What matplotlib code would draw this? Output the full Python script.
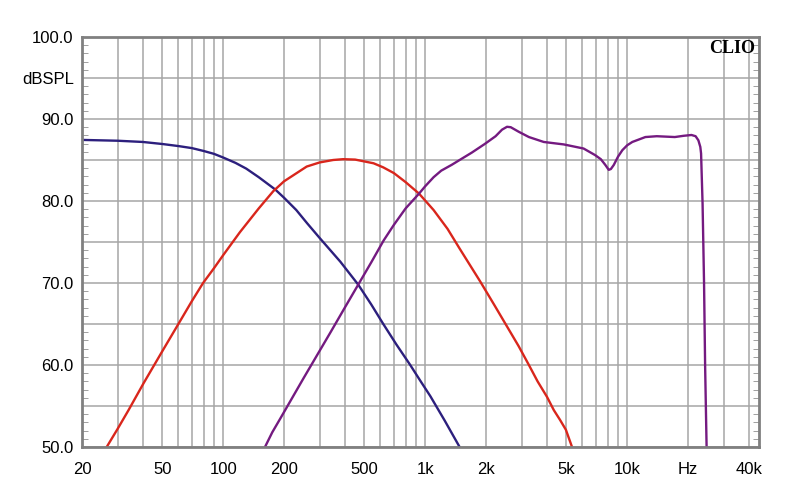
import numpy as np
import matplotlib.pyplot as plt
from matplotlib.ticker import FixedLocator, NullFormatter

plt.rcParams['font.family'] = ['Liberation Sans', 'DejaVu Sans']

# Tieftöner (blau)
blue_f = [20, 30, 40, 50, 60, 70, 80, 90, 100, 115, 130, 150, 181, 200, 230, 260, 300, 380, 466,
          540, 620, 720, 843, 950, 1060, 1250, 1480, 1550]
blue_db = [87.45, 87.35, 87.2, 86.95, 86.7, 86.45, 86.1, 85.75, 85.3, 84.65, 83.95, 82.9, 81.4, 80.4, 78.9, 77.3, 75.5, 72.6, 69.8,
           67.4, 65.0, 62.5, 60.0, 58.0, 56.2, 53.2, 50.0, 49.0]

# Mitteltöner (rot)
red_f = [25.5, 26.5, 30, 34, 40.4, 50, 60, 70, 79.5, 90, 100, 121, 150, 177, 200, 259, 300, 350, 392, 450,
         555, 620, 700, 800, 932, 1100, 1290, 1480, 1870, 2200, 2540, 2900, 3260, 3600, 4010, 4330, 4650,
         4970, 5330, 5500]
red_db = [49.0, 50.0, 52.2, 54.5, 57.8, 61.7, 65.0, 67.8, 70.0, 71.8, 73.4, 76.2, 79.1, 81.2, 82.4, 84.2, 84.7, 85.0, 85.1, 85.05,
          84.6, 84.1, 83.4, 82.3, 80.9, 78.9, 76.6, 74.2, 70.2, 67.3, 64.7, 62.3, 60.0, 58.0, 56.1, 54.5, 53.3,
          52.1, 50.0, 49.0]

# Hochtöner (lila)
purple_f = [155, 161, 175, 192, 250, 340, 400, 466, 540, 623, 700, 800, 932, 1000, 1100, 1200, 1350, 1480, 1700,
            1970, 2230, 2400, 2540, 2650, 2900, 3260, 3860, 4850, 6080, 6930, 7400, 7790, 8100, 8300, 8580,
            9000, 9460, 10000, 10600, 12300, 14000, 17200, 19000, 20800, 21800, 22500, 23000, 23200,
            23600, 24000, 24300, 24700, 24800]
purple_db = [49.0, 50.0, 51.8, 53.5, 58.4, 64.0, 67.0, 69.8, 72.5, 75.2, 77.1, 79.1, 80.9, 81.8, 82.9, 83.7, 84.4, 85.0, 85.9,
             86.95, 87.9, 88.7, 89.05, 89.0, 88.45, 87.8, 87.2, 86.9, 86.4, 85.6, 85.1, 84.4, 83.8, 83.9, 84.4,
             85.4, 86.2, 86.8, 87.2, 87.8, 87.9, 87.8, 87.95, 88.05, 87.9, 87.4, 86.6, 85.8,
             79.7, 70.0, 59.8, 50.2, 49.0]

x_ticks = [20, 50, 100, 200, 500, 1000, 2000, 5000, 10000, 20000, 40000]
x_labels = ['20', '50', '100', '200', '500', '1k', '2k', '5k', '10k', 'Hz', '40k']
y_ticks = [50, 55, 60, 65, 70, 75, 80, 85, 90, 95, 100]
y_labels = ['50.0', '', '60.0', '', '70.0', '', '80.0', '', '90.0', 'dBSPL', '100.0']

fig = plt.figure(figsize=(8, 5.04), dpi=100)
ax = fig.add_axes([82 / 800, 57 / 504, 677 / 800, 410 / 504])

ax.set_xscale('log')
ax.set_xlim(20, 44900)
ax.set_ylim(50, 100)

minor_x = [m * 10 ** d for d in range(1, 5) for m in range(1, 10)]
minor_x = [v for v in minor_x if 20 <= v <= 44900 and v not in x_ticks]
ax.xaxis.set_major_locator(FixedLocator(x_ticks))
ax.xaxis.set_minor_locator(FixedLocator(minor_x))
ax.set_xticklabels(x_labels)
ax.xaxis.set_minor_formatter(NullFormatter())
ax.set_yticks(y_ticks)
ax.set_yticklabels(y_labels)
ax.yaxis.set_minor_locator(FixedLocator(np.arange(50, 101, 1)))

ax.grid(True, which='both', axis='x', color='#a6a6a6', lw=1.1)
ax.grid(True, which='major', axis='y', color='#a6a6a6', lw=1.1)
ax.tick_params(axis='x', which='both', length=0, pad=11, labelsize=12)
ax.tick_params(axis='y', which='major', length=0, pad=6, labelsize=12)
ax.tick_params(axis='y', which='minor', direction='in', length=4, color='#909090',
               left=True, right=True)
for s in ax.spines.values():
    s.set_color('#808080')
    s.set_linewidth(2)

ax.plot(blue_f, blue_db, color='#2c1f7d', lw=1.7)
ax.plot(red_f, red_db, color='#d9261c', lw=1.7)
ax.plot(purple_f, purple_db, color='#741a80', lw=1.7)

ax.text(0.994, 0.962, 'CLIO', transform=ax.transAxes, ha='right', va='baseline',
        family=['Liberation Serif'], fontweight='bold', fontsize=13)

fig.savefig('out.png', dpi=100)
